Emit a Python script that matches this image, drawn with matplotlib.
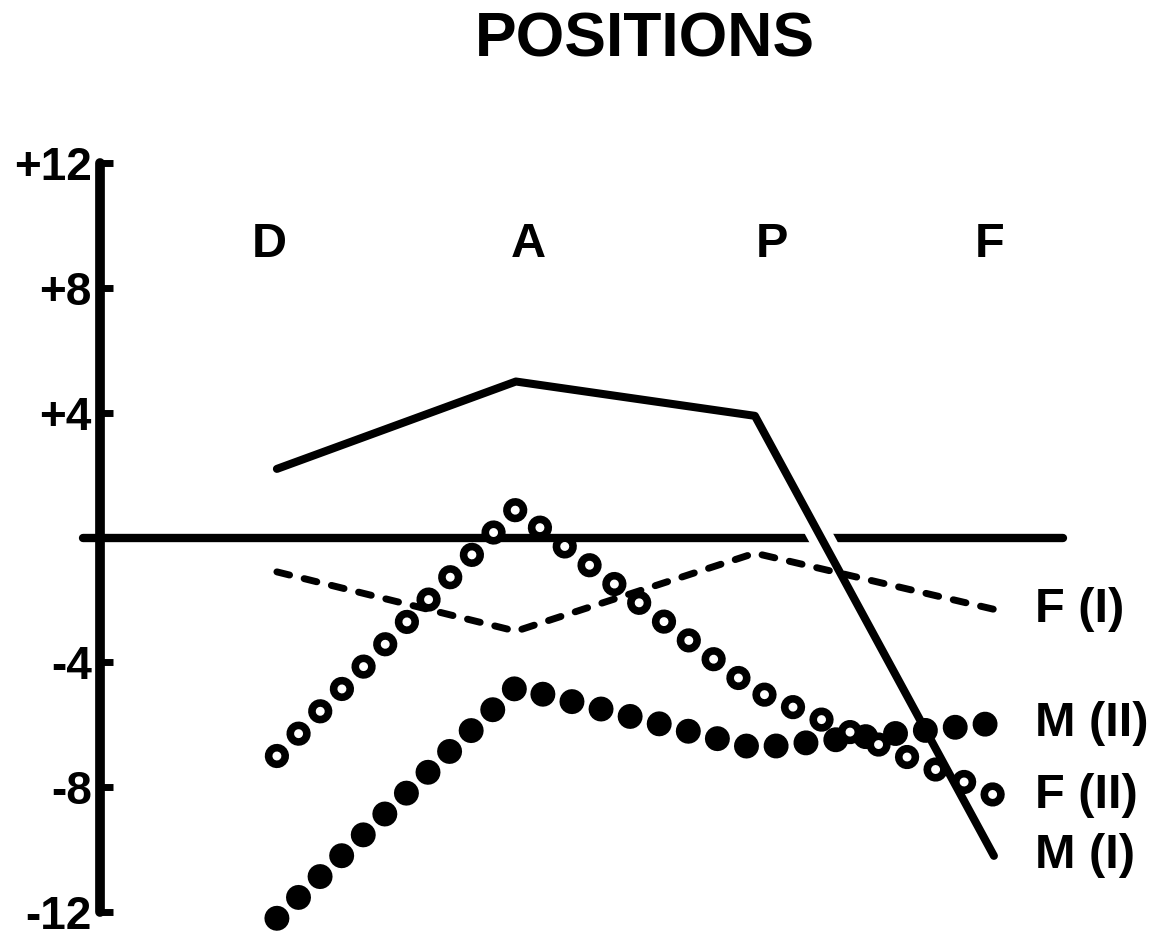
import matplotlib
matplotlib.use('Agg')
import matplotlib.pyplot as plt
import matplotlib.patheffects as pe

plt.rcParams['font.family'] = ['Liberation Sans', 'DejaVu Sans']
plt.rcParams['font.weight'] = 'bold'
plt.rcParams['lines.scale_dashes'] = False

# categories (positions) and the four curves
positions = ['D', 'A', 'P', 'F']
xpos = [0, 1, 2, 3]
m1 = [2.2, 5.0, 3.9, -10.2]      # M (I)   solid line
f1 = [-1.1, -3.0, -0.5, -2.3]    # F (I)   dashed line
m2 = [-12.2, -4.8, -6.75, -5.95] # M (II)  filled dots
f2 = [-7.0, 0.9, -4.9, -8.25]    # F (II)  open dots

yticks = [12, 8, 4, -4, -8, -12]
ytick_labels = ['+12', '+8', '+4', '-4', '-8', '-12']

fig = plt.figure(figsize=(11.66, 9.42), dpi=100)
ax = fig.add_axes([0.0858, 0.0318, 0.9142, 0.7951])
ax.set_xlim(-0.74, 3.72)
ax.set_ylim(-12, 12)

for s in ['top', 'right', 'bottom']:
    ax.spines[s].set_visible(False)
ax.spines['left'].set_linewidth(7)
ax.spines['left'].set_capstyle('round')
ax.set_xticks([])
ax.set_yticks(yticks, ytick_labels)
ax.tick_params(axis='y', direction='in', length=9, width=5, pad=6, labelsize=33)

# zero line
ax.plot([-0.81, 3.29], [0, 0], color='black', lw=6, solid_capstyle='round',
        clip_on=False, zorder=1)

# M (I)
ax.plot(xpos, m1, color='black', lw=5.8, solid_capstyle='round', solid_joinstyle='round',
        clip_on=False, zorder=2,
        path_effects=[pe.Stroke(linewidth=18, foreground='white'), pe.Normal()])

# F (I)
ax.plot(xpos, f1, color='black', lw=5, linestyle=(0, (9.4, 10.8)), dash_capstyle='round',
        clip_on=False, zorder=3)

# M (II) - chain of filled dots
ax.plot(xpos, m2, color='black', lw=18, linestyle=(0, (0.01, 21.6)), dash_capstyle='round',
        clip_on=False, zorder=4)

# F (II) - chain of open dots
ax.plot(xpos, f2, color='black', lw=17.5, linestyle=(0, (0.01, 22.4)), dash_capstyle='round',
        clip_on=False, zorder=5)
ax.plot(xpos, f2, color='white', lw=6.5, linestyle=(0, (0.01, 22.4)), dash_capstyle='round',
        clip_on=False, zorder=6)

# curve labels at the right end
for vals, name in [(f1, 'F (I)'), (m2, 'M (II)'), (f2, 'F (II)'), (m1, 'M (I)')]:
    ax.text(3.17, vals[-1], name, ha='left', va='center', fontsize=35, clip_on=False)

# position letters (hand lettered, slightly off the data columns)
shifts = [-0.03, 0.05, 0.07, -0.02]
for xi, p, dx in zip(xpos, positions, shifts):
    ax.text(xi + dx, 9.4, p, ha='center', va='center', fontsize=35)

fig.text(645 / 1166, 1 - 40 / 942, 'POSITIONS', ha='center', va='center', fontsize=45)

fig.savefig('out.png', dpi=100)
